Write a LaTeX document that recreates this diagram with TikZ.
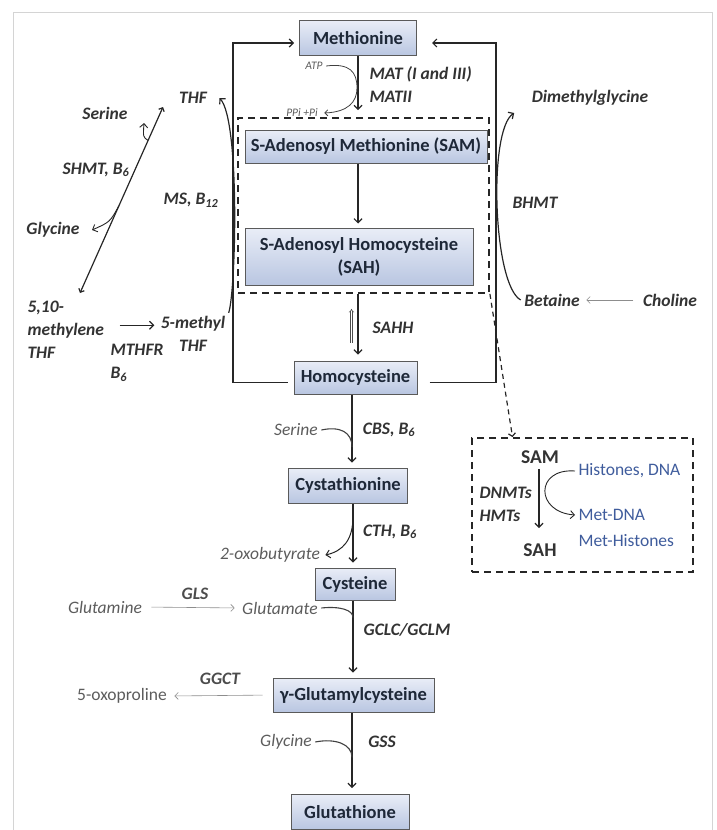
\documentclass[tikz,border=0pt]{standalone}
\usepackage{fontspec}
\setmainfont{Carlito}
\usetikzlibrary{arrows.meta}
\definecolor{boxline}{HTML}{5A5A5A}
\definecolor{boxtop}{HTML}{E9EDF7}
\definecolor{boxbot}{HTML}{B9C6E1}
\definecolor{boxtext}{HTML}{1E2838}
\definecolor{labgray}{HTML}{5C5C5C}
\definecolor{epiblue}{HTML}{3F5C9C}
\definecolor{framegray}{HTML}{D4D4D4}
\tikzset{
  metab/.style={draw=boxline, line width=1pt, top color=boxtop, bottom color=boxbot,
    text=boxtext, font=\fontsize{18.5}{23}\selectfont\bfseries, inner sep=0pt},
  enz/.style={font=\fontsize{17.5}{23}\selectfont\bfseries\itshape, text=black!80},
  sidelab/.style={font=\fontsize{17.5}{22}\selectfont\itshape, text=labgray},
  smalllab/.style={font=\fontsize{11.5}{14}\selectfont\itshape, text=labgray},
  flow/.style={line width=1.2pt, draw=black!85, -{Straight Barb[length=4pt,width=8pt]}},
  dflow/.style={line width=1.2pt, draw=black!85,
    {Straight Barb[length=3pt,width=6pt]}-{Straight Barb[length=3pt,width=6pt]}},
  cofac/.style={line width=1.1pt, draw=black!75},
  thinflow/.style={line width=0.6pt, draw=labgray!70, -{Straight Barb[length=3.5pt,width=7pt]}},
  backflow/.style={line width=0.5pt, draw=black!70, double=white, double distance=1.3pt, -{Implies}},
  boxdash/.style={draw=black!85, line width=1.8pt, dash pattern=on 7pt off 5pt},
}
\begin{document}
\begin{tikzpicture}[x=1pt,y=-1pt]
    \useasboundingbox (0,0) rectangle (717,830);
    \clip (0,0) rectangle (717,830);
    \draw[framegray, line width=0.8pt] (13,12) rectangle (712,850);
    %% methionine cycle
    \node[boxdash, minimum width=251, minimum height=175] (cyc) at (363.5,205.5) {};
    \node[metab, minimum width=117, minimum height=35] (met) at (358,38) {Methionine};
    \node[metab, minimum width=242, minimum height=33] (sam) at (366,146.5) {S-Adenosyl Methionine (SAM)};
    \node[metab, minimum width=228, minimum height=57, align=center] (sah) at (359,256.5) {S-Adenosyl Homocysteine\\(SAH)};
    \node[metab, minimum width=123, minimum height=33] (hcy) at (355.5,377.5) {Homocysteine};
    \draw[flow, shorten >=7pt] (met.south) -- (met.south |- cyc.north);
    \node[smalllab] (atp) at (314,66) {ATP};
    \node[smalllab] (ppi) at (302,113) {PPi +Pi};
    \draw[cofac, line width=0.8pt, -{Straight Barb[length=3pt,width=6pt]}] (atp.east) .. controls (350,63) and (357,72) .. (357,88)
        .. controls (357,102) and (348,112) .. ([xshift=3pt]ppi.east);
    \node[enz, anchor=west] (mat) at (366,74) {MAT (I and III)};
    \node[enz, anchor=west] (matii) at (366,97) {MATII};
    \draw[flow, shorten >=4pt] ([xshift=-1pt]sah.north |- sam.south) -- ([xshift=-1pt]sah.north);
    \draw[flow, shorten >=6pt] ([xshift=-1pt]sah.south |- cyc.south) -- ([xshift=-1pt]sah.south |- hcy.north);
    \draw[backflow] ([xshift=-4pt,yshift=18pt]hcy.north) -- ([xshift=-4pt,yshift=-15pt]hcy.north |- cyc.south);
    \node[enz] (sahh) at (393,328) {SAHH};
    %% remethylation loops
    \coordinate (lturn) at (233,43);
    \coordinate (rturn) at (496,43);
    \draw[flow] ([shift={(-6pt,-5pt)}]hcy.west) -| (lturn) -- ([shift={(-5pt,-5pt)}]met.west);
    \draw[flow] ([shift={(12pt,-5pt)}]hcy.east) -| (rturn) -- ([shift={(15pt,-5pt)}]met.east);
    %% folate side
    \node[enz] (thf) at (193,98) {THF};
    \node[enz] (ser1) at (105,113) {Serine};
    \node[enz] (shmt) at (96,170) {SHMT, B\textsubscript{6}};
    \node[enz] (gly1) at (53,230) {Glycine};
    \node[enz, align=left, anchor=north west] (mthf) at (24,297) {5,10-\\methylene\\THF};
    \node[enz, align=center] (mthy) at (193,334) {5-methyl\\THF};
    \node[enz, align=left, anchor=north west] (mthfr) at (107,341) {MTHFR\\B\textsubscript{6}};
    \node[enz] (ms) at (191,200) {MS, B\textsubscript{12}};
    \coordinate (shA) at (80,293);
    \coordinate (shB) at (163,107);
    \draw[dflow] (shA) -- (shB) coordinate[pos=0.82] (shS) coordinate[pos=0.47] (shG);
    \draw[flow, line width=0.9pt] (shS) .. controls (143,137) .. ([shift={(13pt,-10pt)}]ser1.east);
    \draw[flow, line width=0.9pt] (shG) .. controls (110,222) .. ([xshift=9pt]gly1.east);
    \draw[flow] (mthy.north east) .. controls (236,290) and (240,120) .. ([xshift=9pt]thf.east);
    \draw[flow, shorten <=12pt, shorten >=3pt] ([yshift=4pt]mthf.east) -- ([yshift=4pt]mthf.east -| mthy.west);
    %% betaine side
    \node[enz] (dmg) at (590,98) {Dimethylglycine};
    \node[enz] (bhmt) at (535,203) {BHMT};
    \node[enz] (bet) at (552,300) {Betaine};
    \node[enz] (chol) at (670,300) {Choline};
    \draw[thinflow, shorten <=6pt, shorten >=3pt] (chol.west) -- (bet.east);
    \draw[flow] (bet.west) .. controls (493,285) and (488,130) .. ([shift={(-14pt,-15pt)}]dmg.west);
    %% transsulfuration
    \node[metab, minimum width=119, minimum height=35] (cysta) at (348,485.5) {Cystathionine};
    \node[metab, minimum width=80, minimum height=32] (cys) at (355,584) {Cysteine};
    \node[metab, minimum width=161, minimum height=34] (ggc) at (353.5,695) {γ-Glutamylcysteine};
    \node[metab, minimum width=118, minimum height=35] (gsh) at (350,812) {Glutathione};
    \draw[flow, shorten >=5pt] ([xshift=-3.5pt]hcy.south) -- ([xshift=-3.5pt]hcy.south |- cysta.north) coordinate[pos=0.72] (cbsin);
    \node[sidelab] (ser2) at (296,430) {Serine};
    \draw[cofac] (ser2.east) .. controls (340,426) and (352,432) .. (cbsin);
    \node[enz] (cbs) at (389,430) {CBS, B\textsubscript{6}};
    \draw[flow, shorten >=5pt] ([xshift=5pt]cysta.south) -- ([xshift=5pt]cysta.south |- cys.north) coordinate[pos=0.2] (cthout);
    \node[sidelab] (oxo) at (270,555) {2-oxobutyrate};
    \draw[flow, line width=1pt] (cthout) .. controls (353,540) and (343,551) .. ([xshift=2pt]oxo.east);
    \node[enz] (cth) at (390,532) {CTH, B\textsubscript{6}};
    \draw[flow, shorten >=5pt] ([xshift=-2pt]cys.south) -- ([xshift=-2pt]cys.south |- ggc.north) coordinate[pos=0.22] (gclin);
    \node[sidelab] (glu) at (280,608) {Glutamate};
    \node[sidelab] (gln) at (105,607) {Glutamine};
    \draw[thinflow, shorten <=6pt, shorten >=4pt] (gln.east) -- (glu.west);
    \node[enz, text=black!70] (gls) at (195,594) {GLS};
    \draw[cofac] (glu.east) .. controls (340,606) and (353,610) .. (gclin);
    \node[enz] (gclc) at (407,630) {GCLC/GCLM};
    \node[sidelab, font=\fontsize{17.5}{22}\selectfont] (oxp) at (122,696) {5-oxoproline};
    \draw[thinflow, shorten <=10pt, shorten >=4pt] (ggc.west) -- (oxp.east);
    \node[enz, text=black!70] (ggct) at (220,679) {GGCT};
    \draw[flow, shorten >=6pt] ([xshift=-1.5pt]ggc.south) -- ([xshift=-1.5pt]ggc.south |- gsh.north) coordinate[pos=0.55] (gssin);
    \node[sidelab] (gly2) at (286,742) {Glycine};
    \draw[cofac] (gly2.east) .. controls (335,738) and (352,744) .. (gssin);
    \node[enz] (gss) at (382,742) {GSS};
    %% epigenetic methylation
    \node[boxdash, minimum width=221, minimum height=134] (epi) at (582.5,505) {};
    \draw[line width=1.2pt, draw=black!85, dash pattern=on 5pt off 4pt, -{Straight Barb[length=3pt,width=7pt]}]
        (cyc.south east) -- ([xshift=-70pt]epi.north);
    \node[font=\fontsize{19.5}{22}\selectfont\bfseries, text=black!80] (sam2) at (540,457) {SAM};
    \node[font=\fontsize{19.5}{22}\selectfont\bfseries, text=black!80] (sah2) at (540,550) {SAH};
    \draw[flow, shorten <=2pt, shorten >=12pt] ([xshift=-1pt]sam2.south) -- ([xshift=-1pt]sah2.north);
    \node[enz, anchor=west] (dnmt) at (476,493) {DNMTs};
    \node[enz, anchor=west] (hmt) at (476,516) {HMTs};
    \node[font=\fontsize{17.5}{22}\selectfont, text=epiblue, anchor=west] (hist) at (575,471) {Histones, DNA};
    \node[font=\fontsize{17.5}{22}\selectfont, text=epiblue, anchor=west] (metdna) at (575,515) {Met-DNA};
    \node[font=\fontsize{17.5}{22}\selectfont, text=epiblue, anchor=west] (methis) at (575,541) {Met-Histones};
    \draw[flow, line width=0.9pt] (hist.west) .. controls (535,468) and (535,512) .. (metdna.west);
\end{tikzpicture}
\end{document}
